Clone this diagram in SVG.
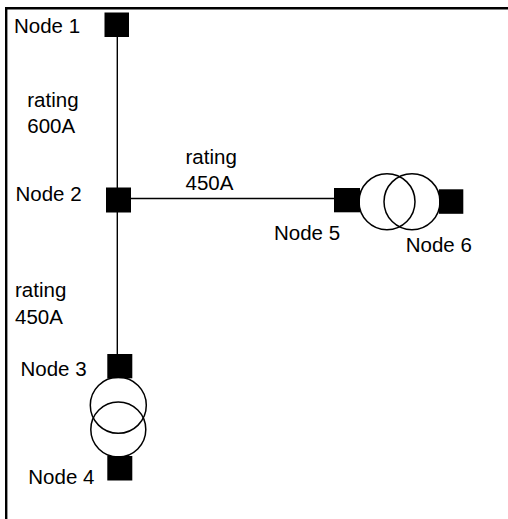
<svg xmlns="http://www.w3.org/2000/svg" width="508" height="519" viewBox="0 0 508 519">
<style>
.bus{fill:#000}
.wire{stroke:#000;stroke-width:1.4;fill:none}
.xf{stroke:#000;stroke-width:1.5;fill:none}
text{font-family:"Liberation Sans",Arial,sans-serif;font-size:20.5px;fill:#000}
</style>
<rect width="508" height="519" fill="#fff"/>
<path d="M6.2,519 V8.3 H508" fill="none" stroke="#000" stroke-width="2.4"/>
<g id="connectors">
<line class="wire" x1="117.3" y1="37" x2="117.3" y2="354"/>
<line class="wire" x1="117" y1="198.5" x2="334" y2="198.5"/>
<text x="27.3" y="106.5">rating</text>
<text x="27.3" y="133">600A</text>
<text x="185.5" y="164">rating</text>
<text x="185.5" y="189.5">450A</text>
<text x="15" y="297">rating</text>
<text x="15" y="324">450A</text>
</g>
<g id="node1">
<rect class="bus" x="104.5" y="12.5" width="24.5" height="24.5"/>
<text x="14" y="33.3">Node 1</text>
</g>
<g id="node2">
<rect class="bus" x="106" y="187.5" width="25" height="25"/>
<text x="15.5" y="201">Node 2</text>
</g>
<g id="transformer1">
<circle class="xf" cx="118.3" cy="405.3" r="28"/>
<circle class="xf" cx="118.3" cy="429.5" r="27.5"/>
</g>
<g id="node3">
<rect class="bus" x="107.3" y="354" width="25" height="24.3"/>
<text x="20.5" y="376">Node 3</text>
</g>
<g id="node4">
<rect class="bus" x="107.3" y="456" width="25" height="24.5"/>
<text x="28.3" y="484">Node 4</text>
</g>
<g id="transformer2">
<circle class="xf" cx="387" cy="201.7" r="28"/>
<circle class="xf" cx="412" cy="201.7" r="28"/>
</g>
<g id="node5">
<rect class="bus" x="334" y="188" width="26" height="24.3"/>
<text x="274" y="240">Node 5</text>
</g>
<g id="node6">
<rect class="bus" x="439" y="189.3" width="24.3" height="24.5"/>
<text x="405.7" y="251.7">Node 6</text>
</g>
</svg>
